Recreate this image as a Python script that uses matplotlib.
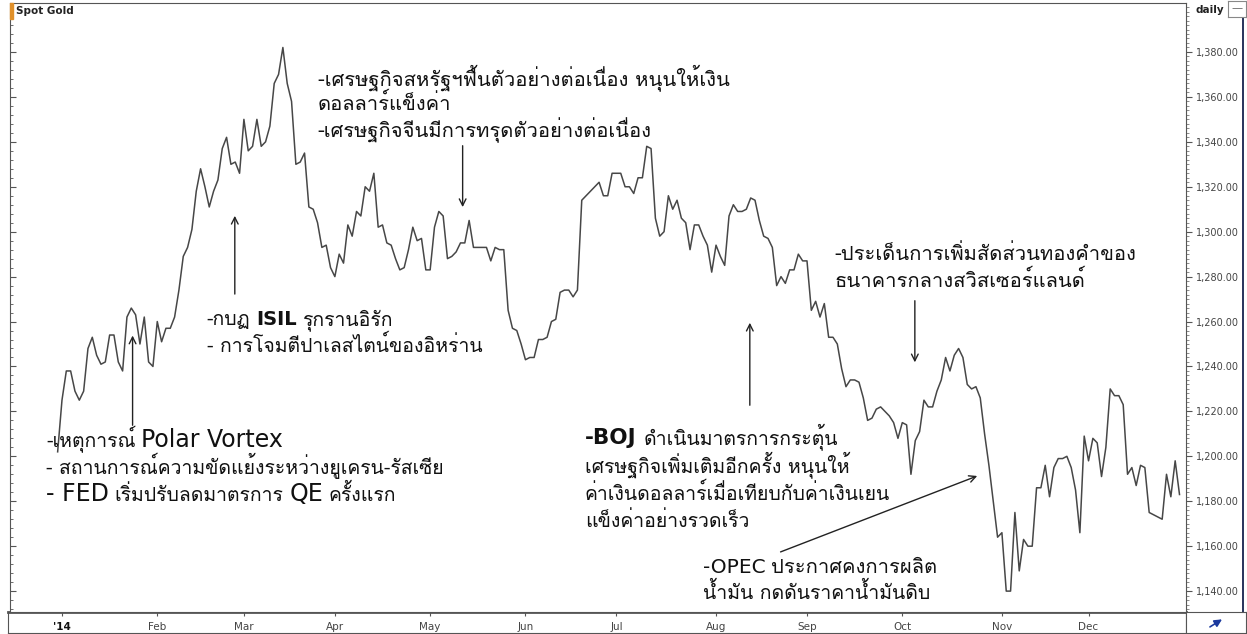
import matplotlib
matplotlib.use("Agg")
import matplotlib.pyplot as plt
import matplotlib.ticker as mticker
from matplotlib import font_manager
from matplotlib.ft2font import FT2Font
from matplotlib.patches import Rectangle
import numpy as np
import pandas as pd

# Spot Gold 2014, cierres diarios (USD/oz)
cierre_2013 = [1202]
ene = [1225, 1238, 1238, 1229, 1225, 1229, 1248, 1253, 1245, 1241, 1242,
       1254, 1254, 1242, 1238, 1262, 1266, 1263, 1250, 1262, 1242, 1240]
feb = [1260, 1251, 1257, 1257, 1262, 1274, 1289, 1293, 1301, 1318,
       1328, 1320, 1311, 1318, 1323, 1337, 1342, 1330, 1331, 1326]
mar = [1350, 1336, 1338, 1350, 1338, 1340, 1347, 1366, 1370, 1382, 1366,
       1358, 1330, 1331, 1335, 1311, 1310, 1304, 1293, 1294, 1284]
abr = [1280, 1290, 1286, 1303, 1298, 1309, 1307, 1320, 1318, 1326, 1302,
       1303, 1295, 1294, 1288, 1283, 1284, 1292, 1302, 1296, 1297, 1283]
may = [1283, 1302, 1309, 1307, 1288, 1289, 1291, 1295, 1295, 1305, 1293,
       1293, 1293, 1293, 1287, 1293, 1292, 1292, 1265, 1257, 1256, 1250]
jun = [1243, 1244, 1244, 1252, 1252, 1253, 1260, 1261, 1273, 1274, 1274,
       1271, 1274, 1314, 1316, 1318, 1320, 1322, 1316, 1316, 1326]
jul = [1326, 1326, 1320, 1320, 1317, 1324, 1324, 1338, 1337, 1306, 1298, 1300,
       1316, 1310, 1314, 1306, 1304, 1292, 1303, 1303, 1298, 1294, 1282]
ago = [1294, 1289, 1285, 1307, 1312, 1309, 1309, 1310, 1315, 1314, 1305,
       1298, 1297, 1293, 1276, 1280, 1277, 1283, 1283, 1290, 1287]
sep = [1287, 1265, 1269, 1262, 1268, 1253, 1253, 1250, 1239, 1231, 1234,
       1234, 1233, 1226, 1216, 1217, 1221, 1222, 1220, 1218, 1215, 1208]
oct_ = [1215, 1214, 1192, 1207, 1211, 1225, 1222, 1222, 1229, 1234, 1244, 1238,
        1245, 1248, 1244, 1232, 1230, 1231, 1226, 1210, 1196, 1180, 1164]
nov = [1166, 1140, 1140, 1175, 1149, 1163, 1160, 1160, 1186, 1186,
       1196, 1182, 1195, 1199, 1199, 1200, 1195, 1185, 1166, 1209]
dic = [1198, 1208, 1206, 1191, 1204, 1230, 1227, 1227, 1223, 1192, 1195,
       1187, 1196, 1195, 1175, 1174, 1173, 1172, 1192, 1182, 1198, 1183]
feriados = ["2014-01-01", "2014-12-25"]

etiquetas_mes = ["'14", "Feb", "Mar", "Apr", "May", "Jun", "Jul",
                 "Aug", "Sep", "Oct", "Nov", "Dec"]
ticks_precio = list(range(1140, 1381, 20))

precios = cierre_2013 + ene + feb + mar + abr + may + jun + jul + ago + sep + oct_ + nov + dic
fechas = pd.bdate_range("2013-12-31", "2014-12-31")
fechas = fechas[~fechas.isin(pd.to_datetime(feriados))]
x = np.arange(len(precios))


def buscar_fuente_thai():
    preferidas = ["Tahoma", "Loma", "Garuda", "Norasi", "Noto Sans Thai", "Sarabun"]
    encontradas = []
    for f in font_manager.fontManager.ttflist:
        try:
            if 0x0E01 in FT2Font(f.fname).get_charmap():
                encontradas.append(f.name)
        except Exception:
            pass
    for p in preferidas:
        if p in encontradas:
            return p
    return encontradas[0] if encontradas else "DejaVu Sans"


THAI = buscar_fuente_thai()
LATIN = "DejaVu Sans"
W, H = 1247, 634


def rect(x0, y0, x1, y1):
    return [x0 / W, 1 - y1 / H, (x1 - x0) / W, (y1 - y0) / H]


fig = plt.figure(figsize=(W / 100, H / 100), dpi=100)

# paneles de decoracion (eje derecho, franja inferior)
panel = fig.add_axes(rect(1186, 3, 1243, 612))
panel.set_xticks([]); panel.set_yticks([])
for s in ["top", "bottom"]:
    panel.spines[s].set_visible(False)
panel.spines["right"].set_color("#27335c")
panel.spines["right"].set_linewidth(1.4)
panel.spines["left"].set_color("#e9e2b0")

franja = fig.add_axes(rect(8, 612, 1186, 633))
franja.set_xticks([]); franja.set_yticks([])
for s in franja.spines.values():
    s.set_color("#555555")
franja.spines["top"].set_linewidth(2)

celda = fig.add_axes(rect(1186, 612, 1246, 633))
celda.set_xticks([]); celda.set_yticks([])
celda.set_xlim(0, 1); celda.set_ylim(0, 1)
for s in celda.spines.values():
    s.set_color("#555555")
celda.annotate("", xy=(0.64, 0.72), xytext=(0.36, 0.22),
               arrowprops=dict(arrowstyle="-|>", color="#1c3a9e", lw=1.2,
                               mutation_scale=11))

caja = fig.add_axes(rect(1228, 1, 1246, 17))
caja.set_xticks([]); caja.set_yticks([])
for s in caja.spines.values():
    s.set_color("#888888")
caja.text(0.5, 0.55, "—", color="#666666", fontsize=8, ha="center", va="center")

ax = fig.add_axes(rect(10, 3, 1186, 612))
ax.plot(x, precios, color="#474747", lw=1.1)
ax.set_xlim(-11, 260.5)
ax.set_ylim(1130.7, 1401.8)

# eje y a la derecha
ax.yaxis.tick_right()
ax.set_yticks(ticks_precio)
ax.yaxis.set_major_formatter(mticker.FuncFormatter(lambda v, p: f"{v:,.2f}"))
ax.yaxis.set_minor_locator(mticker.MultipleLocator(2))
ax.tick_params(axis="y", which="major", labelsize=7, labelcolor="#444444",
               length=4, color="#555555", pad=3)
ax.tick_params(axis="y", which="minor", length=2, color="#777777")
izq = ax.secondary_yaxis("left")
izq.set_yticks(ticks_precio)
izq.yaxis.set_minor_locator(mticker.MultipleLocator(4))
izq.tick_params(which="both", direction="in", labelleft=False, color="#555555")
izq.tick_params(which="major", length=4)
izq.tick_params(which="minor", length=2)
izq.spines["left"].set_visible(False)

# eje x: inicio de cada mes
inicio_mes = [int(np.argmax((fechas.year == 2014) & (fechas.month == m))) for m in range(1, 13)]
ax.set_xticks(inicio_mes)
ax.set_xticklabels(etiquetas_mes)
ax.tick_params(axis="x", length=3, color="#555555", labelsize=7.5,
               labelcolor="#444444", pad=4)
ax.get_xticklabels()[0].set_fontweight("bold")
ax.get_xticklabels()[0].set_color("#111111")
for s in ax.spines.values():
    s.set_color("#555555")

# cabecera
fig.add_artist(Rectangle((10 / W, 1 - 19 / H), 3 / W, 16 / H, color="#e0902a",
                         transform=fig.transFigure))
fig.text(16 / W, 1 - 11 / H, "Spot Gold", fontsize=7.5, fontweight="bold",
         color="#222222", va="center")
fig.text(1196 / W, 1 - 10 / H, "daily", fontsize=7.5, fontweight="bold",
         color="#222222", va="center")


def linea_texto(x0, y0, partes, th=14.5, lat=14, gap=4):
    prev = None
    for s, tipo in partes:
        kw = dict(fontsize=th, color="#111111", va="baseline", ha="left")
        if tipo == "th":
            kw["family"] = [THAI, "DejaVu Sans"]
        else:
            kw["family"] = [LATIN]
            kw["fontsize"] = lat
            if tipo == "bold":
                kw["fontweight"] = "bold"
        if prev is None:
            prev = ax.text(x0, y0, s, **kw)
        else:
            prev = ax.annotate(s, xy=(1, y0), xycoords=(prev, "data"),
                               xytext=(gap, 0), textcoords="offset points", **kw)


def flecha(x0, y0, x1, y1):
    ax.annotate("", xy=(x1, y1), xytext=(x0, y0),
                arrowprops=dict(arrowstyle="->", color="#222222", lw=1,
                                mutation_scale=12))


linea_texto(-2.6, 1204.1, [("-เหตุการณ์", "th"), ("Polar Vortex", "lat")], th=14, lat=17)
linea_texto(-2.6, 1192.1, [("- สถานการณ์ความขัดแย้งระหว่างยูเครน-รัสเซีย", "th")], th=14)
linea_texto(-2.6, 1180.1, [("- FED", "lat"), ("เริ่มปรับลดมาตรการ", "th"),
                           ("QE", "lat"), ("ครั้งแรก", "th")], th=14, lat=17)
flecha(17.3, 1212.6, 17.3, 1255)

linea_texto(34.4, 1258.4, [("-กบฏ", "th"), ("ISIL", "bold"), ("รุกรานอิรัก", "th")],
            th=14, gap=4)
linea_texto(34.4, 1246.4, [("- การโจมตีปาเลสไตน์ของอิหร่าน", "th")], th=14)
flecha(40.9, 1271, 40.9, 1308.3)

linea_texto(60, 1365.3, [("-เศรษฐกิจสหรัฐฯฟื้นตัวอย่างต่อเนื่อง หนุนให้เงิน", "th")])
linea_texto(60, 1354.2, [("ดอลลาร์แข็งค่า", "th")])
linea_texto(60, 1342.2, [("-เศรษฐกิจจีนมีการทรุดตัวอย่างต่อเนื่อง", "th")])
flecha(93.5, 1339.5, 93.5, 1309.7)

linea_texto(121.7, 1205.5, [("-BOJ", "bold"), ("ดำเนินมาตรการกระตุ้น", "th")],
            th=14, lat=15.5, gap=5)
linea_texto(121.7, 1193.0, [("เศรษฐกิจเพิ่มเติมอีกครั้ง หนุนให้", "th")], th=14)
linea_texto(121.7, 1180.5, [("ค่าเงินดอลลาร์เมื่อเทียบกับค่าเงินเยน", "th")], th=14)
linea_texto(121.7, 1168.5, [("แข็งค่าอย่างรวดเร็ว", "th")], th=14)
flecha(159.8, 1221.5, 159.8, 1260.7)

linea_texto(179.4, 1287.4, [("-ประเด็นการเพิ่มสัดส่วนทองคำของ", "th")])
linea_texto(179.4, 1275.4, [("ธนาคารกลางสวิสเซอร์แลนด์", "th")])
flecha(197.9, 1270.5, 197.9, 1240.6)

linea_texto(149.0, 1148.0, [("-OPEC", "lat"), ("ประกาศคงการผลิต", "th")], lat=14.5)
linea_texto(149.0, 1136.5, [("น้ำมัน กดดันราคาน้ำมันดิบ", "th")], th=14)
flecha(166.3, 1157, 212.9, 1191.7)

fig.savefig("out.png", dpi=100)
